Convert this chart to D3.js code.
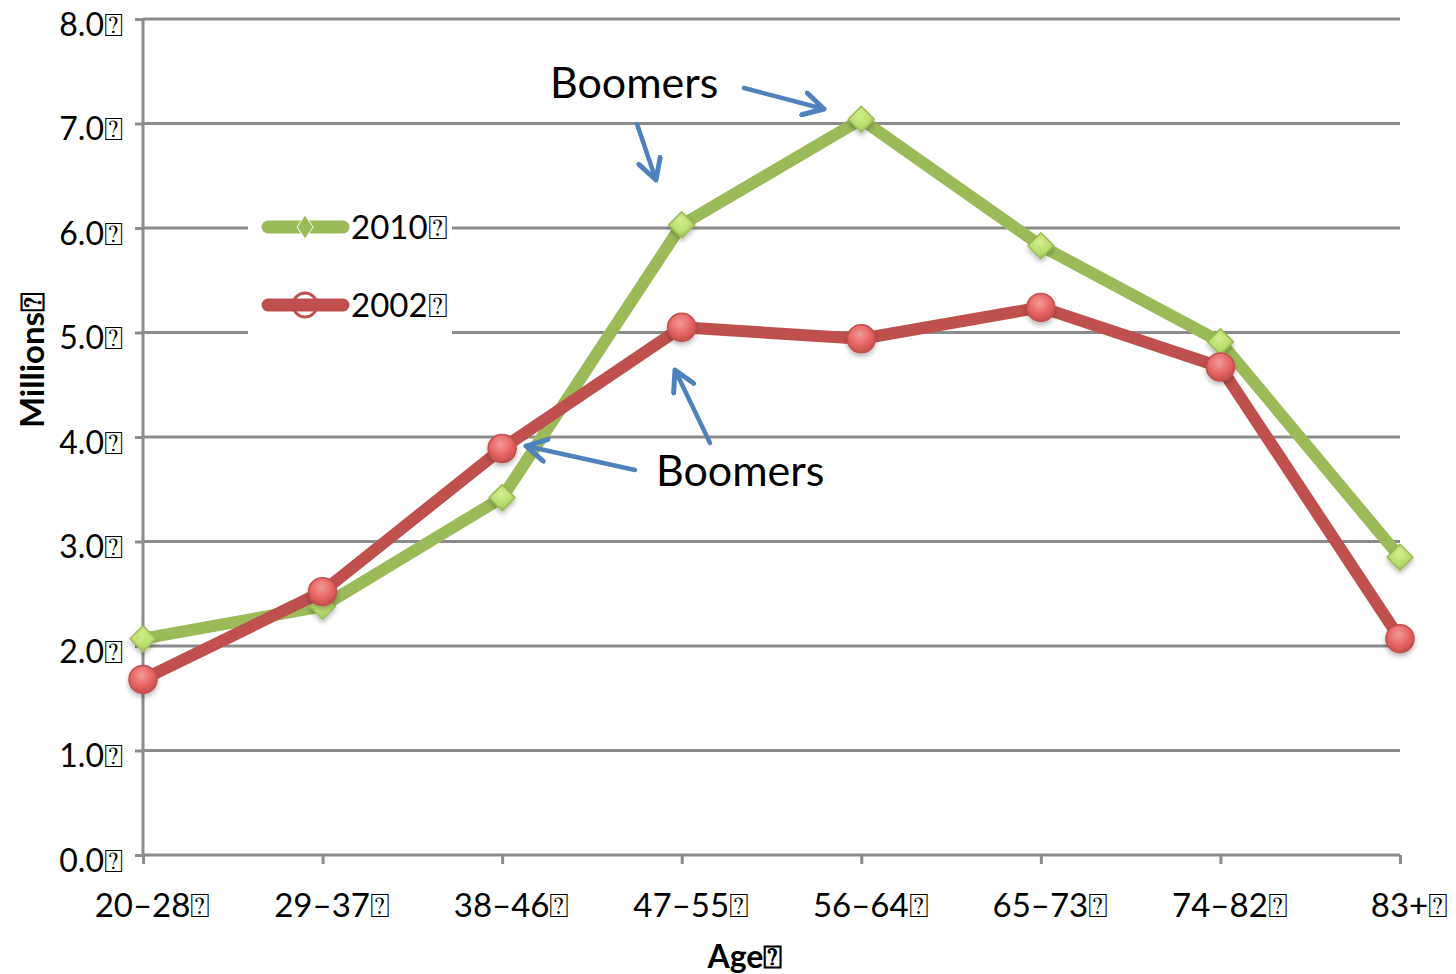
<!DOCTYPE html>
<html>
<head>
<meta charset="utf-8">
<script src="https://cdn.jsdelivr.net/npm/d3@7"></script>
<style>
  html, body { margin: 0; padding: 0; background: #fff; }
  svg { display: block; font-family: Lato, "Open Sans", "DejaVu Sans", sans-serif; }
</style>
</head>
<body>
<svg id="chart" width="1456" height="974"></svg>
<script>
// Age groups on the x axis
const ageGroups = ["20–28", "29–37", "38–46", "47–55", "56–64", "65–73", "74–82", "83+"];
// Population by age group, in millions
const values2010 = [2.07, 2.38, 3.42, 6.03, 7.04, 5.83, 4.91, 2.85];
const values2002 = [1.68, 2.52, 3.89, 5.05, 4.94, 5.24, 4.67, 2.07];
// Y axis ticks
const yTicks = [0, 1, 2, 3, 4, 5, 6, 7, 8];
const BOX = "\u2370";

const svg = d3.select("#chart");
const plotLeft = 143, plotRight = 1400, plotTop = 19, plotBottom = 855;

const x = d3.scalePoint().domain(ageGroups).range([plotLeft, plotRight]).padding(0);
const y = d3.scaleLinear().domain([0, 8]).range([plotBottom, plotTop]);

const defs = svg.append("defs");
const shadow = defs.append("filter").attr("id", "shadow")
  .attr("x", "-50%").attr("y", "-50%").attr("width", "200%").attr("height", "200%");
shadow.append("feDropShadow").attr("dx", 0).attr("dy", 3).attr("stdDeviation", 2.5)
  .attr("flood-color", "#000").attr("flood-opacity", 0.28);

function radial(id, c0, c1, c2) {
  const g = defs.append("radialGradient").attr("id", id)
    .attr("cx", "45%").attr("cy", "35%").attr("r", "65%");
  g.append("stop").attr("offset", "0%").attr("stop-color", c0);
  g.append("stop").attr("offset", "65%").attr("stop-color", c1);
  g.append("stop").attr("offset", "100%").attr("stop-color", c2);
}
radial("gGreen", "#d2ee8c", "#b9dc6c", "#98bb55");
radial("gRed", "#f49a98", "#e5605e", "#c0504d");

const gridColor = "#8c8c8c";

// Horizontal gridlines
svg.append("g").selectAll("line").data(yTicks.filter(d => d > 0)).join("line")
  .attr("x1", plotLeft).attr("x2", plotRight)
  .attr("y1", d => y(d)).attr("y2", d => y(d))
  .attr("stroke", gridColor).attr("stroke-width", 3);

// Y axis
const yAxis = svg.append("g").attr("transform", `translate(${plotLeft},0)`)
  .call(d3.axisLeft(y).tickValues(yTicks).tickSize(8).tickPadding(12)
    .tickFormat(d => d3.format(".1f")(d) + BOX));
yAxis.select(".domain").attr("stroke", gridColor).attr("stroke-width", 3)
  .attr("d", `M0,${y(8)}V${y(0)}`);
yAxis.selectAll(".tick line").attr("stroke", gridColor).attr("stroke-width", 3);
yAxis.selectAll(".tick text").attr("font-size", 32).attr("fill", "#000")
  .attr("font-family", "Lato, sans-serif").attr("dy", "0.5em");

// X axis
const xAxis = svg.append("g").attr("transform", `translate(0,${plotBottom})`)
  .call(d3.axisBottom(x).tickSize(9).tickPadding(30).tickFormat(d => d + BOX));
xAxis.select(".domain").attr("stroke", gridColor).attr("stroke-width", 3)
  .attr("d", `M${plotLeft},0H${plotRight}`);
xAxis.selectAll(".tick line").attr("stroke", gridColor).attr("stroke-width", 3);
xAxis.selectAll(".tick text").attr("font-size", 33).attr("fill", "#000")
  .attr("font-family", "Lato, sans-serif").attr("dx", 9);

// Axis titles
svg.append("text").attr("x", 745).attr("y", 968).attr("text-anchor", "middle")
  .attr("font-size", 32).attr("font-weight", "bold").text("Age" + BOX);
svg.append("text").attr("transform", "translate(44,360) rotate(-90)")
  .attr("text-anchor", "middle").attr("font-size", 33).attr("font-weight", "bold")
  .text("Millions" + BOX);

// Series
const series = [
  { name: "2010", values: values2010, color: "#9bbb59", fill: "url(#gGreen)", shape: "diamond" },
  { name: "2002", values: values2002, color: "#c0504d", fill: "url(#gRed)", shape: "circle" }
];

const line = d3.line().x((d, i) => x(ageGroups[i])).y(d => y(d));

function drawMarker(g, shape, fill, stroke) {
  if (shape === "diamond") {
    g.append("path").attr("d", "M0,-13L13,0L0,13L-13,0Z")
      .attr("fill", fill).attr("stroke", stroke).attr("stroke-width", 1.5)
      .attr("stroke-linejoin", "round");
  } else {
    g.append("circle").attr("r", 14).attr("fill", fill)
      .attr("stroke", stroke).attr("stroke-width", 1.5);
  }
}

series.forEach(s => {
  const g = svg.append("g");
  g.append("path").datum(s.values).attr("d", line)
    .attr("fill", "none").attr("stroke", s.color).attr("stroke-width", 12)
    .attr("stroke-linejoin", "round").attr("stroke-linecap", "round");
  g.selectAll("g.m").data(s.values).join("g").attr("class", "m")
    .attr("filter", "url(#shadow)")
    .attr("transform", (d, i) => `translate(${x(ageGroups[i])},${y(d)})`)
    .each(function () { drawMarker(d3.select(this), s.shape, s.fill, s.color); });
});

// Legend
const legend = svg.append("g");
legend.append("rect").attr("x", 248).attr("y", 190).attr("width", 204).attr("height", 145)
  .attr("fill", "#fff");
const legendRows = [
  { s: series[0], y: 227 },
  { s: series[1], y: 305 }
];
legendRows.forEach(r => {
  legend.append("line").attr("x1", 268).attr("x2", 343).attr("y1", r.y).attr("y2", r.y)
    .attr("stroke", r.s.color).attr("stroke-width", 13).attr("stroke-linecap", "round");
  if (r.s.shape === "diamond") {
    legend.append("path").attr("d", `M${305},${r.y - 12}L${313},${r.y}L${305},${r.y + 12}L${297},${r.y}Z`)
      .attr("fill", r.s.color).attr("stroke", "#fff").attr("stroke-width", 1);
  } else {
    legend.append("circle").attr("cx", 305).attr("cy", r.y).attr("r", 12)
      .attr("fill", "none").attr("stroke", r.s.color).attr("stroke-width", 3);
  }
  legend.append("text").attr("x", 351).attr("y", r.y).attr("dy", "0.36em")
    .attr("font-size", 33).text(r.s.name + BOX);
});

// Annotations
const arrowColor = "#4f81bd";
defs.append("marker").attr("id", "arrow").attr("viewBox", "0 0 12 12")
  .attr("refX", 10).attr("refY", 6).attr("markerWidth", 6).attr("markerHeight", 6)
  .attr("markerUnits", "strokeWidth").attr("orient", "auto")
  .append("path").attr("d", "M1,1L10,6L1,11").attr("fill", "none")
  .attr("stroke", arrowColor).attr("stroke-width", 2.2).attr("stroke-linejoin", "round")
  .attr("stroke-linecap", "round");

const annotations = [
  { text: "Boomers", tx: 550, ty: 98, arrows: [[744, 88, 824, 109], [637, 124, 656, 180]] },
  { text: "Boomers", tx: 656, ty: 486, arrows: [[635, 470, 526, 446], [710, 443, 675, 370]] }
];
annotations.forEach(a => {
  svg.append("text").attr("x", a.tx).attr("y", a.ty).attr("font-size", 43)
    .attr("font-family", "Lato, sans-serif").text(a.text);
  a.arrows.forEach(([x1, y1, x2, y2]) => {
    svg.append("line").attr("x1", x1).attr("y1", y1).attr("x2", x2).attr("y2", y2)
      .attr("stroke", arrowColor).attr("stroke-width", 4.5).attr("stroke-linecap", "round")
      .attr("marker-end", "url(#arrow)");
  });
});
</script>
</body>
</html>
